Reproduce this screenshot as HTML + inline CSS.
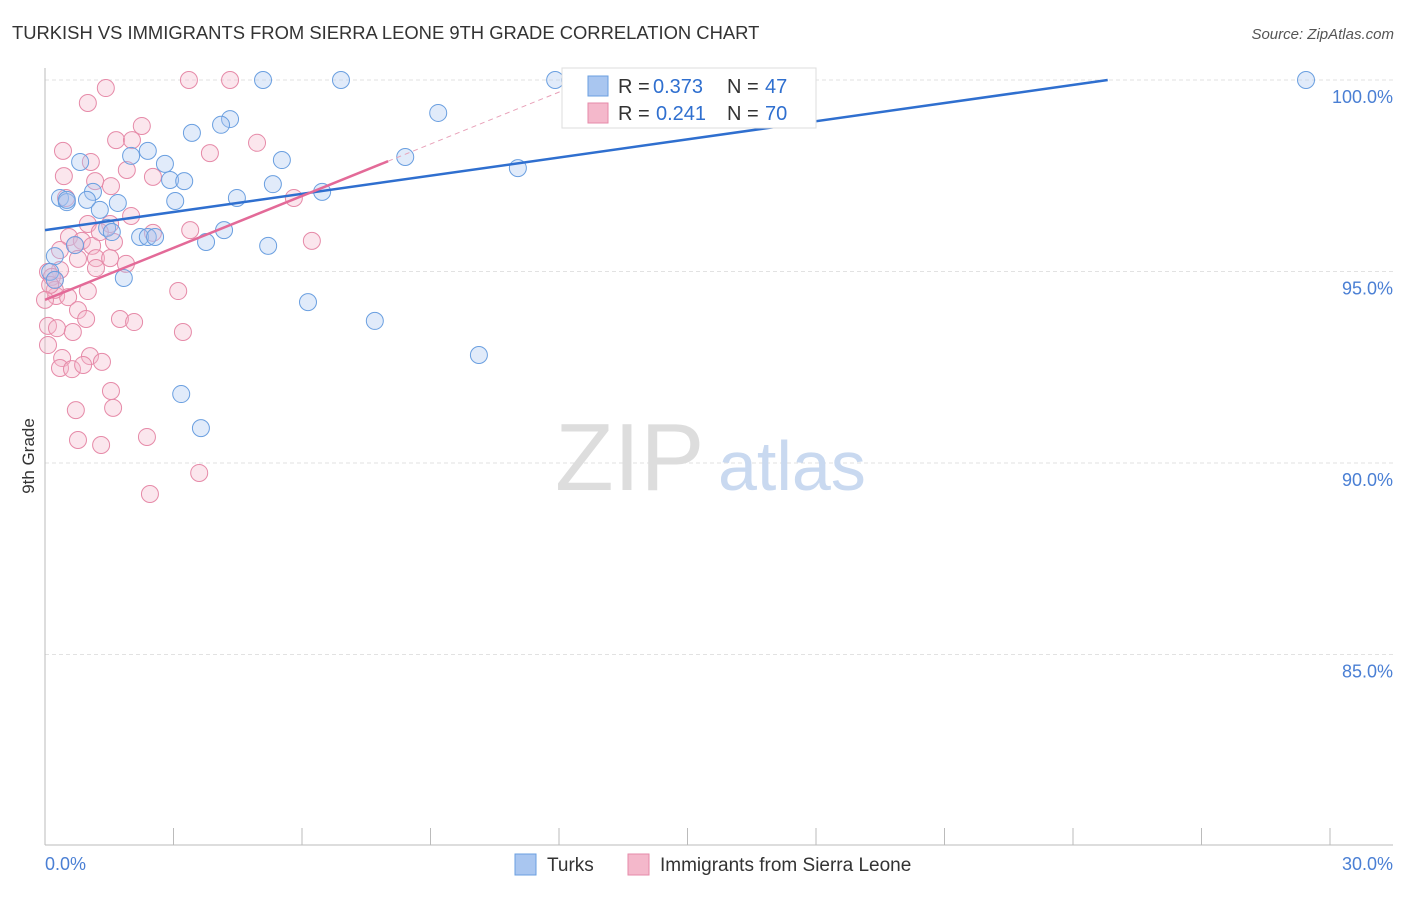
<!DOCTYPE html>
<html><head><meta charset="utf-8"><style>
body{margin:0;background:#fff;font-family:"Liberation Sans",sans-serif;}
svg text{font-family:"Liberation Sans",sans-serif;}
</style></head><body>
<svg width="1406" height="892" viewBox="0 0 1406 892">
<text x="12" y="39" font-size="18.4" fill="#333">TURKISH VS IMMIGRANTS FROM SIERRA LEONE 9TH GRADE CORRELATION CHART</text>
<text x="1394" y="39" font-size="15" fill="#555" font-style="italic" text-anchor="end">Source: ZipAtlas.com</text>
<g id="grid"></g>
<text x="555" y="490" font-size="96" fill="#ddd" font-family="Liberation Serif">ZIP</text>
<text x="718" y="490" font-size="70" fill="#c9d9f0">atlas</text>
<text transform="translate(34,456) rotate(-90)" font-size="17" fill="#333" text-anchor="middle">9th Grade</text>
<text x="45" y="870" font-size="18" fill="#4a7fd4">0.0%</text>
<text x="1393" y="870" font-size="18" fill="#4a7fd4" text-anchor="end">30.0%</text>
<g id="pts"></g>
<g id="lines"></g>
<g>
<rect x="562" y="68" width="254" height="60" fill="#fff" stroke="#ddd"/>
<rect x="588" y="76" width="20" height="20" fill="#a9c6f0" stroke="#6a9fe0"/>
<text x="618" y="93" font-size="20" fill="#333">R =</text>
<text x="653" y="93" font-size="20" fill="#2f6fcf">0.373</text>
<text x="727" y="93" font-size="20" fill="#333">N =</text>
<text x="765" y="93" font-size="20" fill="#2f6fcf">47</text>
<rect x="588" y="103" width="20" height="20" fill="#f4b8cb" stroke="#e68aa8"/>
<text x="618" y="120" font-size="20" fill="#333">R =</text>
<text x="656" y="120" font-size="20" fill="#2f6fcf">0.241</text>
<text x="727" y="120" font-size="20" fill="#333">N =</text>
<text x="765" y="120" font-size="20" fill="#2f6fcf">70</text>
</g>
<g>
<rect x="515" y="854" width="21" height="21" fill="#a9c6f0" stroke="#6a9fe0"/>
<text x="547" y="871" font-size="19" fill="#333">Turks</text>
<rect x="628" y="854" width="21" height="21" fill="#f4b8cb" stroke="#e68aa8"/>
<text x="660" y="871" font-size="19" fill="#333">Immigrants from Sierra Leone</text>
</g>
</svg>
<script>
const yTicks=[100,95,90,85];
const yTickLabels=["100.0%","95.0%","90.0%","85.0%"];
const blueX=[5.09,6.91,11.91,12.26,29.44,9.18,4.32,4.11,3.43,2.40,2.01,2.80,8.41,5.53,11.04,0.82,2.92,3.25,5.32,6.47,1.12,0.35,0.51,0.98,1.70,3.04,4.48,1.28,1.45,1.56,4.18,2.22,2.40,2.57,3.76,5.21,0.70,0.23,0.12,0.23,1.84,6.14,7.70,10.13,3.18,3.64,0.51];
const blueY=[100,100,100,100,100,99.14,98.98,98.83,98.62,98.15,98.02,97.81,97.99,97.91,97.70,97.86,97.39,97.36,97.28,97.08,97.08,96.92,96.81,96.87,96.79,96.84,96.92,96.61,96.14,96.03,96.08,95.90,95.90,95.90,95.77,95.67,95.69,95.40,94.99,94.78,94.83,94.20,93.71,92.82,91.80,90.91,96.87];
const pinkX=[3.36,4.32,1.42,1.00,2.26,1.66,2.03,4.95,0.42,3.85,1.07,1.91,2.52,0.44,1.17,1.54,0.49,5.81,2.01,1.00,1.52,3.39,2.52,0.56,0.86,1.61,0.70,1.10,6.23,0.77,1.19,1.52,1.89,1.19,0.35,0.07,0.23,0.16,1.00,3.11,0.26,0.54,0.77,0.96,1.75,2.08,0.07,0.28,0.65,3.22,0.07,0.40,1.05,1.33,0.35,0.63,0.89,1.54,0.72,1.59,0.77,1.31,2.38,3.60,2.45,0.23,0.12,0.0,0.35,1.28];
const pinkY=[100,100,99.79,99.40,98.80,98.43,98.43,98.36,98.15,98.09,97.86,97.65,97.47,97.49,97.36,97.23,96.92,96.92,96.45,96.24,96.24,96.08,96.01,95.90,95.80,95.77,95.69,95.67,95.80,95.33,95.35,95.35,95.20,95.09,95.04,94.99,94.78,94.86,94.49,94.49,94.36,94.33,93.99,93.76,93.76,93.68,93.58,93.52,93.42,93.42,93.08,92.74,92.79,92.64,92.48,92.45,92.56,91.88,91.38,91.44,90.60,90.47,90.68,89.74,89.19,94.52,94.65,94.26,95.56,96.03];
const blueTrend=[96.08,0.158];
const pinkTrend=[94.26,0.452];
const NS="http://www.w3.org/2000/svg";
const sx=v=>45+v/30*1285;
const sy=v=>80+(100-v)*38.3;
function mk(t,a,p){const e=document.createElementNS(NS,t);for(const k in a)e.setAttribute(k,a[k]);p.appendChild(e);return e;}
const grid=document.getElementById('grid');
yTicks.forEach((t,i)=>{
 const l=mk('line',{x1:45,x2:1393,y1:sy(t),y2:sy(t),stroke:'#e2e2e2','stroke-dasharray':'4,3'},grid);
 
 
 const tx=mk('text',{x:1393,y:sy(t)+23,'font-size':18,fill:'#4a7fd4','text-anchor':'end'},grid);
 tx.textContent=yTickLabels[i];
 
 
});
mk('line',{x1:45,x2:45,y1:68,y2:845,stroke:'#bbb'},grid);
mk('line',{x1:45,x2:1393,y1:845,y2:845,stroke:'#bbb'},grid);
for(let i=0;i<=10;i++){const x=sx(i*3);const t=mk('line',{x1:x,x2:x,y1:828,y2:845,stroke:'#bbb'},grid);
 
 }
const pts=document.getElementById('pts');
pinkX.forEach((x,i)=>{const c=mk('circle',{cx:sx(x),cy:sy(pinkY[i]),r:8.5,fill:'#f4b8cb','fill-opacity':0.35,stroke:'#e68aa8','stroke-width':1},pts);
 
 });
blueX.forEach((x,i)=>{const c=mk('circle',{cx:sx(x),cy:sy(blueY[i]),r:8.5,fill:'#a9c6f0','fill-opacity':0.35,stroke:'#6a9fe0','stroke-width':1},pts);
 
 });
const lines=document.getElementById('lines');
const bx2=(100-blueTrend[0])/blueTrend[1];
const bl=mk('line',{x1:sx(0),y1:sy(blueTrend[0]),x2:sx(bx2),y2:sy(100),stroke:'#2f6fcf','stroke-width':2.5},lines);


const px2=8.01, px3=(100-pinkTrend[0])/pinkTrend[1];
const pl=mk('line',{x1:sx(0),y1:sy(pinkTrend[0]),x2:sx(px2),y2:sy(pinkTrend[0]+pinkTrend[1]*px2),stroke:'#e36a98','stroke-width':2.5},lines);


const pd=mk('line',{x1:sx(px2),y1:sy(pinkTrend[0]+pinkTrend[1]*px2),x2:sx(px3),y2:sy(100),stroke:'#e8a0b8','stroke-width':1,'stroke-dasharray':'5,4'},lines);


</script>
</body></html>
